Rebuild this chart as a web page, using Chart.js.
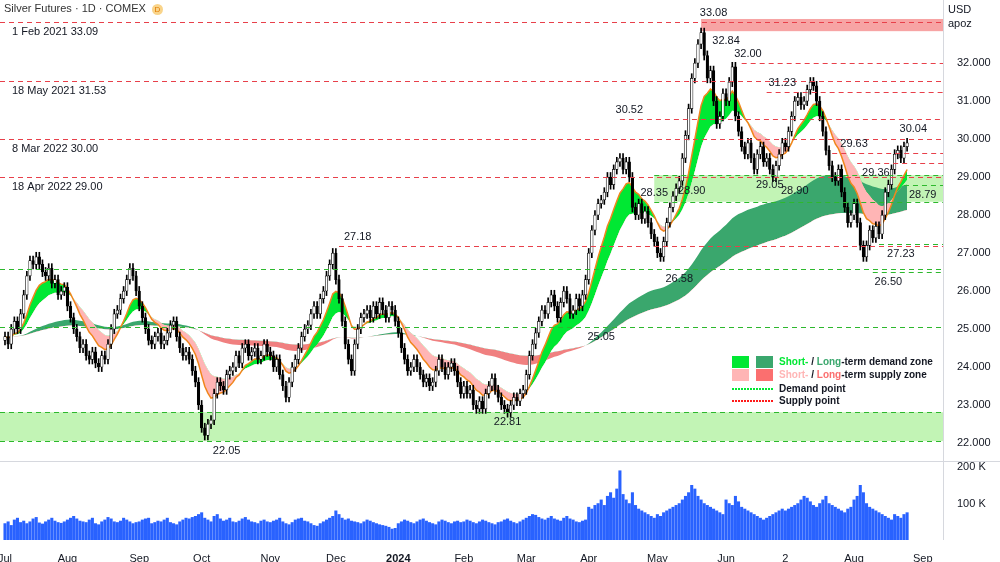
<!DOCTYPE html>
<html><head><meta charset="utf-8">
<script src="https://cdn.jsdelivr.net/npm/chart.js@4"></script>
<style>
body{margin:0;background:#fff;width:1000px;height:562px;overflow:hidden;font-family:"Liberation Sans",Arial,sans-serif}
#c1{position:absolute;left:0;top:0}
#c2{position:absolute;left:0;top:462px}
#title{position:absolute;left:4px;top:2px;font-size:11px;color:#333}
#title span{display:inline-block;width:11px;height:11px;border-radius:6px;background:#f9d48a;color:#e07a00;font-size:8px;text-align:center;line-height:11px;margin-left:6px}
#usd{position:absolute;left:948px;top:2px;font-size:11px;color:#131722;line-height:14px}
</style></head><body>
<canvas id="c1" width="1000" height="462"></canvas>
<canvas id="c2" width="1000" height="100"></canvas>
<div id="title">Silver Futures · 1D · COMEX<span>D</span></div>
<div id="usd">USD<br>apoz</div>
<script>
// ---- data ----
const closesByMonth = [
 [24.8,24.6,25.0,25.2,25.0,25.4,25.9,26.4,26.8,26.7,26.9,26.7,26.5,26.4,26.6,26.2,26.3,25.9,26.0,26.1],
 [25.6,25.3,25.0,24.8,24.5,24.6,24.3,24.2,24.4,24.1,24.0,24.3,24.2,24.6,25.0,25.4,25.5,25.8,26.0,26.3,26.6,26.4,26.0],
 [25.6,25.3,25.0,24.7,24.6,24.8,24.9,24.6,24.7,24.9,25.1,25.2,24.8,24.5,24.3,24.4,24.2,23.9,23.6,23.0],
 [22.4,22.2,22.5,22.6,23.3,23.6,23.5,23.4,23.8,23.9,24.0,24.3,24.1,24.5,24.6,24.3,24.4,24.5,24.2,24.3,24.6,24.4],
 [24.3,24.0,24.2,23.8,23.5,23.2,23.6,24.0,24.2,24.5,24.8,25.0,25.1,25.4,25.6,25.4,25.8,26.0,26.4,26.7,27.0],
 [26.3,25.8,25.2,24.6,24.2,23.9,24.6,25.0,25.3,25.4,25.5,25.3,25.6,25.4,25.7,25.5,25.3,25.6,25.5,25.2],
 [24.9,24.5,24.2,23.9,24.0,24.2,24.0,23.8,23.6,23.7,23.5,23.6,23.9,24.2,24.0,23.8,24.0,24.1,23.9,23.6,23.3],
 [23.5,23.3,23.4,23.0,22.9,23.1,22.9,23.3,23.5,23.7,23.4,23.2,23.0,22.9,22.8,23.0,23.2,23.1,23.3,23.4],
 [23.8,24.3,24.6,24.9,25.2,25.5,25.4,25.7,25.9,25.6,25.3,25.7,26.0,25.8,25.4,25.5,25.8,25.6,25.9,26.3],
 [27.0,27.6,28.0,28.3,28.4,28.6,29.0,28.8,29.2,29.4,29.5,29.2,29.4,29.0,28.2,28.0,28.3,27.9,28.1,27.8,27.5,27.3],
 [27.0,26.9,27.3,27.8,28.2,28.5,28.7,28.9,29.5,30.1,30.8,31.6,32.0,32.5,32.8,32.2,31.6,31.8,31.0,30.4,30.6,31.2],
 [31.0,31.5,31.9,30.6,30.2,29.8,29.6,29.9,29.5,29.2,29.6,29.8,29.4,29.5,29.2,29.0,29.3,29.6,29.9],
 [29.8,30.2,30.6,31.0,31.1,30.9,31.0,31.3,31.5,31.4,31.0,30.6,30.2,29.7,29.3,29.0,28.9,29.2,28.6,28.2,27.8,28.0],
 [28.3,27.8,27.2,26.9,27.2,27.6,27.4,27.7,27.5,28.0,28.6,28.8,29.2,29.6,29.7,29.5,29.8,29.9]
];
const volumeByMonth = [
 [45,50,40,55,60,48,52,45,50,58,62,47,44,50,55,60,52,48,46,50],
 [55,60,65,58,52,50,48,55,60,45,42,50,55,62,58,50,48,52,60,55,50,45,48],
 [50,55,58,60,45,48,52,50,55,60,48,45,42,50,55,60,58,62,65,70],
 [75,60,55,50,65,70,58,52,55,60,50,48,52,58,62,55,50,48,45,52,55,50],
 [48,52,55,60,50,45,42,48,55,58,60,52,50,45,40,38,45,50,55,60,65],
 [80,70,60,55,58,52,50,48,45,50,55,52,48,45,42,40,38,35,30,32],
 [45,50,55,52,48,45,50,55,58,52,48,45,42,50,55,52,48,45,50,52,48],
 [50,55,52,48,45,50,55,52,48,45,42,48,50,55,58,52,48,45,50,55],
 [60,65,70,68,62,58,55,60,65,58,55,52,60,65,58,55,50,48,52,55],
 [90,85,95,100,110,95,120,130,115,140,190,125,110,100,130,95,85,80,75,70,65,60],
 [70,65,75,80,85,90,95,100,110,120,130,150,140,120,110,100,95,90,85,80,75,70],
 [110,100,95,120,105,90,85,80,75,70,65,60,55,60,65,70,75,80,85],
 [80,85,90,95,100,110,120,115,105,95,90,100,110,120,100,95,90,85,80,75,85,90],
 [110,120,150,130,100,90,85,80,75,70,65,60,55,70,65,60,70,75]
];
const monthLabels = ['Jul','Aug','Sep','Oct','Nov','Dec','2024','Feb','Mar','Apr','May','Jun','2','Aug','Sep'];
const monthTickIdx = [0,20,43,63,85,106,126,147,167,187,209,231,250,272,294];
const priceTicks = [22,23,24,25,26,27,28,29,30,31,32];
const volumeTicks = [100,200];
const supplyLevels = [ {v:33.09,from:-2},{v:31.53,from:-2},{v:30.00,from:-2},{v:29.00,from:-2},
  {v:32.00,from:236},{v:27.18,from:107},{v:30.52,from:197},{v:31.23,from:244},{v:29.63,from:265},{v:29.36,from:273} ];
const demandLevels = [ {v:22.05,from:-2},{v:22.81,from:-2},{v:25.05,from:-2},{v:26.58,from:-2},{v:26.50,from:278},
  {v:27.23,from:280},{v:28.79,from:288},{v:28.35,from:208},{v:29.05,from:208} ];
const zones = [ {lo:22.05,hi:22.81,from:-2,color:'rgba(120,230,90,0.45)'},
  {lo:28.35,hi:29.05,from:208,color:'rgba(120,230,90,0.45)'},
  {lo:32.84,hi:33.16,from:223,color:'rgba(240,90,90,0.55)'} ];
const leftLabels = [ {t:'1 Feb 2021 33.09',v:33.09},{t:'18 May 2021 31.53',v:31.53},{t:'8 Mar 2022 30.00',v:30.00},{t:'18 Apr 2022 29.00',v:29.00} ];
const pointLabels = [
 {t:'33.08',i:227,v:33.08,up:true},{t:'32.84',i:231,v:32.84,up:false},{t:'32.00',i:238,v:32.00,up:true},
 {t:'31.23',i:249,v:31.23,up:true},{t:'30.52',i:200,v:30.52,up:true},{t:'30.04',i:291,v:30.04,up:true},
 {t:'29.63',i:272,v:29.63,up:true},{t:'29.36',i:279,v:29.36,up:false},{t:'29.05',i:245,v:29.05,up:false},
 {t:'28.90',i:253,v:28.90,up:false},{t:'28.90',i:220,v:28.90,up:false},{t:'28.35',i:208,v:28.35,up:true},
 {t:'28.79',i:294,v:28.79,up:false},{t:'27.18',i:113,v:27.18,up:true},{t:'27.23',i:287,v:27.23,up:false},
 {t:'26.58',i:216,v:26.58,up:false},{t:'26.50',i:283,v:26.50,up:false},{t:'25.05',i:191,v:25.05,up:false},
 {t:'22.81',i:161,v:22.81,up:false},{t:'22.05',i:71,v:22.05,up:false}
];
// ---- build ----
const closes = closesByMonth.flat();
const volumes = volumeByMonth.flat();
const N = closes.length;
const WICK = 0.12;
const bodies=[], wicks=[], upFlags=[];
for(let i=0;i<N;i++){
  const o = i? closes[i-1] : closes[0]-0.1, c = closes[i];
  bodies.push({x:i,y:[o,c]}); upFlags.push(c>=o);
  wicks.push({x:i,y:[Math.min(o,c)-WICK,Math.max(o,c)+WICK]});
}
function ema(p){const k=2/(p+1);let e=closes[0];return closes.map((c,i)=>({x:i,y:(e=i?c*k+e*(1-k):c)}));}
const eFast=ema(10), eSlow=ema(20), eL1=ema(90), eL2=ema(150);
const XMIN=-1.6, XMAX=300.5;
const fitY = ax=>{ax.width=57;ax.paddingTop=0;ax.paddingBottom=0;};
const plug = {
 id:'annot',
 beforeDatasetsDraw(ch){
  const ctx=ch.ctx,x=ch.scales.x,y=ch.scales.y,a=ch.chartArea;
  ctx.save();
  zones.forEach(z=>{ctx.fillStyle=z.color;const x0=Math.max(a.left,x.getPixelForValue(z.from));
    ctx.fillRect(x0,y.getPixelForValue(z.hi),a.right-x0,y.getPixelForValue(z.lo)-y.getPixelForValue(z.hi));});
  ctx.restore();
 },
 afterDatasetsDraw(ch){
  const ctx=ch.ctx,x=ch.scales.x,y=ch.scales.y,a=ch.chartArea;
  ctx.save();
  ctx.lineWidth=1;ctx.setLineDash([5,4]);
  const line=(l,col)=>{ctx.strokeStyle=col;const py=Math.round(y.getPixelForValue(l.v))+0.5;
    ctx.beginPath();ctx.moveTo(Math.max(a.left,x.getPixelForValue(l.from)),py);ctx.lineTo(a.right,py);ctx.stroke();};
  supplyLevels.forEach(l=>line(l,'#e8404a'));
  demandLevels.forEach(l=>line(l,'#2db82d'));
  ctx.setLineDash([]);
  ctx.fillStyle='#131722';ctx.font='11px "Liberation Sans",Arial';ctx.textBaseline='middle';
  leftLabels.forEach(l=>ctx.fillText(l.t,12,y.getPixelForValue(l.v)+10));
  ctx.textAlign='center';
  pointLabels.forEach(l=>ctx.fillText(l.t,x.getPixelForValue(l.i),y.getPixelForValue(l.v)+(l.up?-9:10)));
  ctx.textAlign='left';ctx.font='bold 10px "Liberation Sans",Arial';
  const lx=732,ly=356;
  ctx.fillStyle='#00e833';ctx.fillRect(lx,ly,17,12);ctx.fillStyle='#3aa76d';ctx.fillRect(lx+24,ly,17,12);
  ctx.fillStyle='#ffb5b5';ctx.fillRect(lx,ly+13,17,12);ctx.fillStyle='#fb6f6f';ctx.fillRect(lx+24,ly+13,17,12);
  ctx.lineWidth=2;ctx.setLineDash([2,1]);
  ctx.strokeStyle='#00e833';ctx.beginPath();ctx.moveTo(lx,ly+33);ctx.lineTo(lx+41,ly+33);ctx.stroke();
  ctx.strokeStyle='#ff1a1a';ctx.beginPath();ctx.moveTo(lx,ly+45);ctx.lineTo(lx+41,ly+45);ctx.stroke();
  ctx.setLineDash([]);
  const seg=(parts,yy)=>{let xx=lx+47;parts.forEach(p=>{ctx.fillStyle=p[1];ctx.fillText(p[0],xx,yy);xx+=ctx.measureText(p[0]).width;});};
  seg([['Short-','#00e833'],[' / ','#131722'],['Long','#3aa76d'],['-term demand zone','#131722']],ly+6);
  seg([['Short-','#ffb5b5'],[' / ','#131722'],['Long','#fb6f6f'],['-term supply zone','#131722']],ly+19);
  seg([['Demand point','#131722']],ly+33);
  seg([['Supply point','#131722']],ly+45);
  ctx.strokeStyle='#d6d8de';ctx.lineWidth=1;ctx.beginPath();ctx.moveTo(a.right+0.5,0);ctx.lineTo(a.right+0.5,462);
  ctx.moveTo(0,461.5);ctx.lineTo(1000,461.5);ctx.stroke();
  ctx.restore();
 }
};
new Chart(document.getElementById('c1'),{
 data:{datasets:[
  {type:'bar',data:wicks,backgroundColor:'#000',barThickness:1,order:2,grouped:false},
  {type:'bar',data:bodies,backgroundColor:upFlags.map(u=>u?'#fff':'#000'),borderColor:'#000',borderWidth:0.7,borderSkipped:false,barThickness:2.6,order:1,grouped:false},
  {type:'line',data:eFast,borderColor:'#f0861c',borderWidth:1.5,pointRadius:0,fill:{target:3,above:'#00e833',below:'#ffb5b5'},order:4},
  {type:'line',data:eSlow,borderColor:'rgba(0,0,0,0)',borderWidth:0,pointRadius:0,order:5},
  {type:'line',data:eL1,borderColor:'rgba(0,0,0,0)',borderWidth:0,pointRadius:0,fill:{target:5,above:'#3aa76d',below:'#f08080'},order:6},
  {type:'line',data:eL2,borderColor:'rgba(0,0,0,0)',borderWidth:0,pointRadius:0,order:7}
 ]},
 options:{responsive:false,animation:false,layout:{padding:0},
  plugins:{legend:{display:false},tooltip:{enabled:false}},
  scales:{
   x:{type:'linear',min:XMIN,max:XMAX,display:false,offset:false},
   y:{position:'right',min:21.5,max:33.66,grid:{display:false},border:{display:false},afterFit:fitY,
      afterBuildTicks:ax=>{ax.ticks=priceTicks.map(v=>({value:v}));},
      ticks:{color:'#131722',font:{size:11,family:'"Liberation Sans",Arial'},padding:6,callback:v=>v.toFixed(3)}}
  }},
 plugins:[plug]
});
new Chart(document.getElementById('c2'),{
 type:'bar',
 data:{datasets:[{data:volumes.map((v,i)=>({x:i,y:v})),backgroundColor:'#2962ff',barThickness:2.4}]},
 options:{responsive:false,animation:false,layout:{padding:0},
  plugins:{legend:{display:false},tooltip:{enabled:false}},
  scales:{
   x:{type:'linear',min:XMIN,max:XMAX,offset:false,grid:{display:false},border:{display:false},
      afterFit:ax=>{ax.height=22;ax.paddingLeft=0;ax.paddingRight=0;},
      afterBuildTicks:ax=>{ax.ticks=monthTickIdx.map(v=>({value:v}));},
      ticks:{autoSkip:false,maxRotation:0,color:'#131722',padding:4,
        font:c=>({size:11,family:'"Liberation Sans",Arial',weight:(monthLabels[c.index]==='2024')?'bold':'normal'}),
        callback:(v,i)=>monthLabels[i]}},
   y:{position:'right',min:0,max:214,grid:{display:false},border:{display:false},afterFit:fitY,
      afterBuildTicks:ax=>{ax.ticks=volumeTicks.map(v=>({value:v}));},
      ticks:{color:'#131722',font:{size:11,family:'"Liberation Sans",Arial'},padding:6,callback:v=>v+' K'}}
  }},
 plugins:[{id:'b',afterDraw(ch){const c=ch.ctx;c.save();c.strokeStyle='#d6d8de';c.beginPath();c.moveTo(943.5,0);c.lineTo(943.5,78);c.stroke();c.restore();}}]
});
</script>
</body></html>
